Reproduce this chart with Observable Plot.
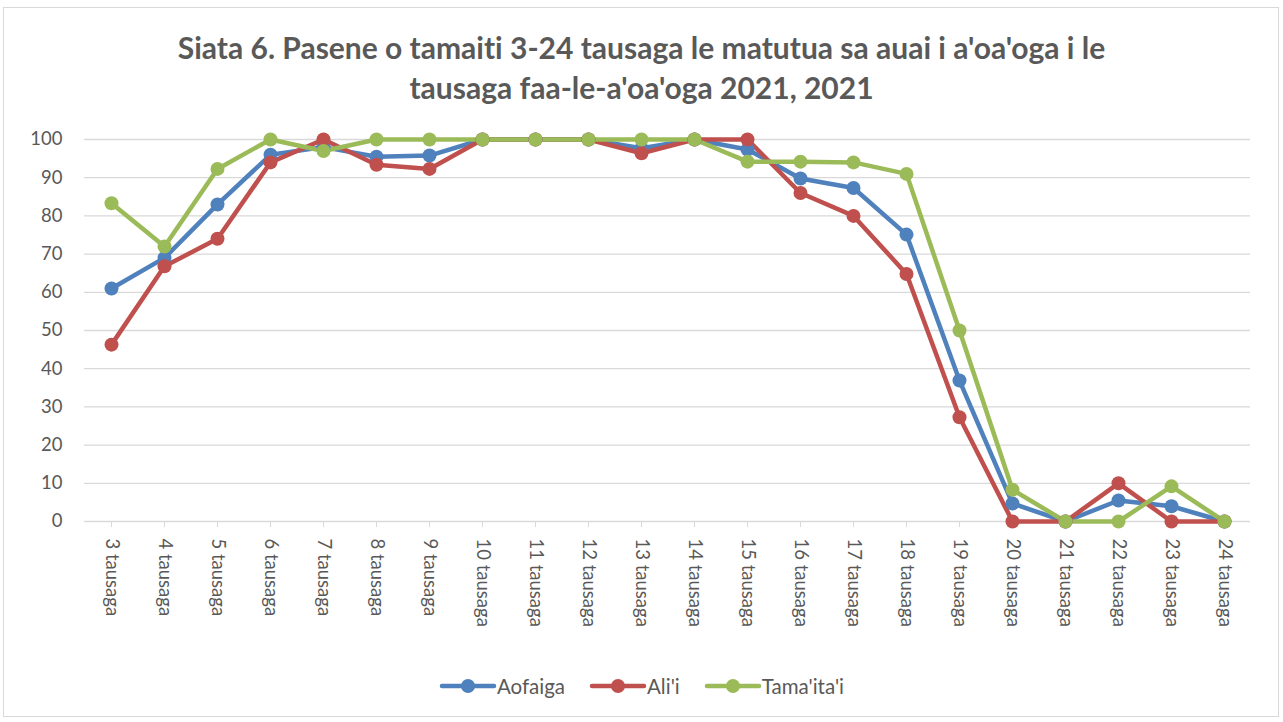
<!DOCTYPE html>
<html><head><meta charset="utf-8">
<script src="https://cdn.jsdelivr.net/npm/d3@7"></script>
<script src="https://cdn.jsdelivr.net/npm/@observablehq/plot@0.6"></script>
<style>
body{margin:0;background:#fff;font-family:Lato,"Open Sans",sans-serif;font-variant-ligatures:none;}
#page{position:relative;width:1283px;height:722px;overflow:hidden;}
#frame{position:absolute;left:3px;top:7px;width:1276px;height:710px;border:1px solid #d9d9d9;box-sizing:border-box;}
#title{position:absolute;left:0;top:27px;width:1283px;text-align:center;font-weight:bold;font-size:30px;color:#595959;line-height:40px;font-variant-ligatures:none;}
#chart{position:absolute;left:0;top:120px;}
#chart text{font-variant-ligatures:none;}
#legend{position:absolute;top:674px;left:0;width:1283px;display:flex;justify-content:center;gap:24px;font-size:20.5px;color:#595959;}
.item{display:flex;align-items:center;}
</style></head>
<body>
<div id="page">
<div id="frame"></div>
<div id="title">Siata 6. Pasene o tamaiti 3-24 tausaga le matutua sa auai i a'oa'oga i le<br>tausaga faa-le-a'oa'oga 2021, 2021</div>
<div id="chart"></div>
<div id="legend"></div>
</div>
<script>
const ages = ["3 tausaga","4 tausaga","5 tausaga","6 tausaga","7 tausaga","8 tausaga","9 tausaga","10 tausaga","11 tausaga","12 tausaga","13 tausaga","14 tausaga","15 tausaga","16 tausaga","17 tausaga","18 tausaga","19 tausaga","20 tausaga","21 tausaga","22 tausaga","23 tausaga","24 tausaga"];
const aofaiga  = [61, 69, 83, 96, 98, 95.5, 95.8, 100, 100, 100, 97.7, 100, 97.4, 89.8, 87.3, 75.1, 36.9, 4.7, 0, 5.5, 4, 0];
const alii     = [46.3, 66.8, 74, 94, 100, 93.4, 92.3, 100, 100, 100, 96.4, 100, 100, 86, 80, 64.8, 27.3, 0, 0, 10, 0, 0];
const tamaitai = [83.3, 72, 92.3, 100, 97, 100, 100, 100, 100, 100, 100, 100, 94.2, 94.2, 94, 91, 50, 8.3, 0, 0, 9.2, 0];
const seriesNames = ["Aofaiga","Ali'i","Tama'ita'i"];
const seriesColors = ["#4f81bd","#c0504d","#9bbb59"];
const yTicks = [0,10,20,30,40,50,60,70,80,90,100];

const data = [];
[aofaiga, alii, tamaitai].forEach((vals, si) => {
  vals.forEach((v, i) => data.push({series: seriesNames[si], age: ages[i], v}));
});

const chart = Plot.plot({
  width: 1283, height: 545,
  marginLeft: 84, marginRight: 33, marginTop: 19, marginBottom: 144,
  style: {fontFamily: "Lato, 'Open Sans', sans-serif", fontSize: "18.5px", color: "#595959", background: "transparent"},
  x: {type: "point", domain: ages, padding: 0.5},
  y: {domain: [0, 100]},
  color: {domain: seriesNames, range: seriesColors},
  marks: [
    Plot.gridY(yTicks, {stroke: "#d9d9d9", strokeOpacity: 1, strokeWidth: 1.3}),
    Plot.axisY(yTicks, {tickSize: 0, tickPadding: 22, fontSize: 18.5, label: null}),
    Plot.axisX({tickRotate: 90, tickSize: 6, tickPadding: 11, stroke: "#d9d9d9", fontSize: 18.5, label: null}),
    Plot.line(data, {x: "age", y: "v", z: "series", stroke: "series", strokeWidth: 4.5, strokeLinecap: "round", strokeLinejoin: "round"}),
    Plot.dot(data, {x: "age", y: "v", fill: "series", r: 7})
  ]
});
document.getElementById("chart").appendChild(chart);

const legend = document.getElementById("legend");
seriesNames.forEach((n, i) => {
  const it = document.createElement("div");
  it.className = "item";
  it.innerHTML = `<svg width="58" height="20"><line x1="3" y1="10" x2="55" y2="10" stroke="${seriesColors[i]}" stroke-width="4.5" stroke-linecap="round"/><circle cx="29" cy="10" r="7" fill="${seriesColors[i]}"/></svg><span>${n}</span>`;
  legend.appendChild(it);
});
</script>
</body></html>
